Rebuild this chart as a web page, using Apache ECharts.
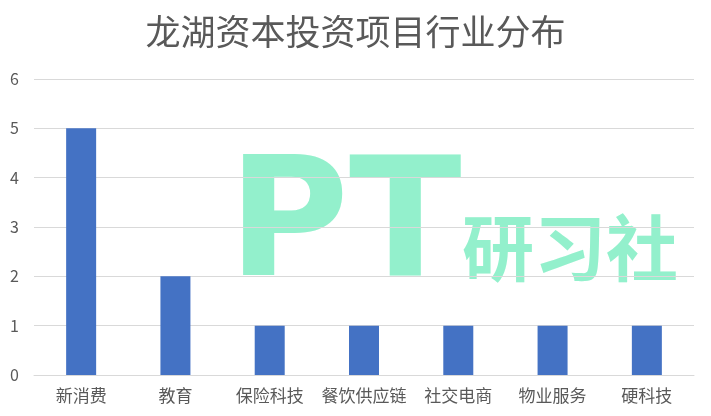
<!DOCTYPE html>
<html><head><meta charset="utf-8">
<script src="https://cdn.jsdelivr.net/npm/echarts@6/dist/echarts.min.js"></script>
<style>html,body{margin:0;padding:0;background:#fff}#c{width:711px;height:416px}</style>
</head><body><div id="c"></div>
<script>
const titleText = '龙湖资本投资项目行业分布';
const categories = ['新消费', '教育', '保险科技', '餐饮供应链', '社交电商', '物业服务', '硬科技'];
const values = [5, 2, 1, 1, 1, 1, 1];
const yTicks = [0, 1, 2, 3, 4, 5, 6];
const watermarkMain = 'PT';
const watermarkSub = '研习社';

const chart = echarts.init(document.getElementById('c'), null, {renderer: 'canvas'});
const font = '"Microsoft YaHei","Noto Sans CJK SC",sans-serif';
chart.setOption({
  animation: false,
  backgroundColor: '#fff',
  title: {
    text: titleText, left: 'center', top: 9,
    textStyle: {fontFamily: font, fontSize: 35, fontWeight: 'normal', color: '#595959'}
  },
  graphic: [
    {type: 'text', z: -10, left: 228, top: 150,
     style: {text: watermarkMain, font: '900 165px "DejaVu Sans", Arial, sans-serif', fill: '#93F0CC'}},
    {type: 'text', z: -10, left: 462, top: 212,
     style: {text: watermarkSub, font: '700 72px "Noto Sans CJK SC", sans-serif', fill: '#93F0CC'}}
  ],
  grid: {left: 34, right: 17, top: 79, bottom: 41, containLabel: false},
  xAxis: {
    type: 'category', data: categories,
    axisLine: {lineStyle: {color: '#D9D9D9', width: 1}},
    axisTick: {show: false},
    axisLabel: {fontFamily: font, fontSize: 17, color: '#595959', margin: 12, interval: 0}
  },
  yAxis: {
    type: 'value', min: yTicks[0], max: yTicks[yTicks.length - 1], interval: 1,
    axisLine: {show: false}, axisTick: {show: false},
    splitLine: {lineStyle: {color: '#D9D9D9', width: 1}},
    axisLabel: {fontFamily: font, fontSize: 16, color: '#595959', margin: 15}
  },
  series: [{
    type: 'bar', data: values, barWidth: 30,
    itemStyle: {color: '#4472C4'}
  }]
});
</script></body></html>
